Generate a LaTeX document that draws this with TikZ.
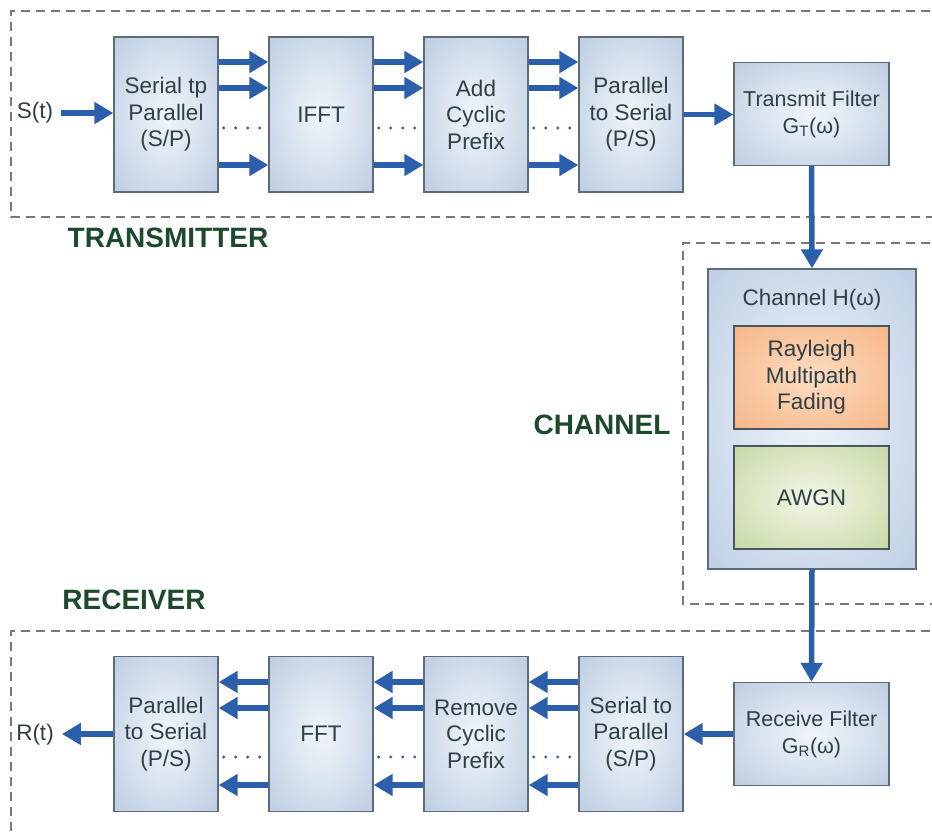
\documentclass[tikz,border=0pt]{standalone}
\usepackage{fontspec}
\setmainfont{Liberation Sans}
\usetikzlibrary{arrows.meta,calc}
\definecolor{arrblue}{HTML}{2B5EAB}
\definecolor{bordergray}{HTML}{5B6B78}
\definecolor{txtgray}{HTML}{2F3F44}
\definecolor{lblgreen}{HTML}{1D4A2C}
\definecolor{dashgray}{HTML}{777777}
\definecolor{dotblue}{HTML}{3A5F95}
\pgfdeclareradialshading{blockshade}{\pgfpoint{0bp}{0bp}}{rgb(0bp)=(0.94,0.96,0.98); rgb(12bp)=(0.88,0.91,0.95); rgb(50bp)=(0.66,0.74,0.85); rgb(75bp)=(0.62,0.71,0.83)}
\pgfdeclareradialshading{chanshade}{\pgfpoint{0bp}{0bp}}{rgb(0bp)=(0.93,0.95,0.98); rgb(15bp)=(0.86,0.90,0.95); rgb(50bp)=(0.67,0.75,0.86); rgb(75bp)=(0.64,0.72,0.84)}
\pgfdeclareradialshading{orangeshade}{\pgfpoint{0bp}{0bp}}{rgb(0bp)=(0.99,0.87,0.77); rgb(15bp)=(0.98,0.80,0.66); rgb(50bp)=(0.95,0.65,0.44); rgb(75bp)=(0.94,0.62,0.40)}
\pgfdeclareradialshading{greenshade}{\pgfpoint{0bp}{0bp}}{rgb(0bp)=(0.95,0.97,0.91); rgb(15bp)=(0.88,0.92,0.80); rgb(50bp)=(0.71,0.80,0.54); rgb(75bp)=(0.68,0.78,0.50)}
\tikzset{
  block/.style={draw=bordergray, line width=1.4pt, shading=blockshade, minimum width=104pt, minimum height=155pt, inner sep=0pt, align=center, text=txtgray, font=\fontsize{22.5}{26.5}\selectfont},
  filt/.style={block, minimum width=155pt, minimum height=103pt, font=\fontsize{21.5}{27}\selectfont},
  chanbox/.style={draw=bordergray, line width=1.4pt, shading=chanshade, minimum width=208pt, minimum height=300pt, inner sep=0pt},
  orangebox/.style={draw=bordergray!80!black, line width=1.4pt, shading=orangeshade, minimum width=155pt, minimum height=103pt, inner sep=0pt, align=center, text=txtgray, font=\fontsize{22.5}{26.5}\selectfont},
  greenbox/.style={orangebox, shading=greenshade},
  arr/.style={draw=arrblue, line width=5.5pt, -{Triangle[length=19pt,width=21pt]}},
  dashbox/.style={draw=dashgray, line width=1.3pt, dash pattern=on 9pt off 6pt},
  lbl/.style={text=lblgreen, font=\fontsize{28}{32}\selectfont\bfseries, inner sep=0pt},
  iotext/.style={text=txtgray, font=\fontsize{22.5}{26.5}\selectfont, inner sep=0pt},
  dotmark/.style={fill=dotblue}
}
\begin{document}
\begin{tikzpicture}[x=1pt,y=-1pt]
\useasboundingbox (0,0) rectangle (932,834);
\fill[white] (0,0) rectangle (932,834);
\begin{scope}
\clip (0,0) rectangle (932,834);
\draw[dashbox] (945,11) -- (11,11) -- (11,217) -- (945,217);
\draw[dashbox] (945,243) -- (683,243) -- (683,604) -- (945,604);
\draw[dashbox] (945,631) -- (11,631) -- (11,845);
\end{scope}

% labels
\node[lbl] (ltx) at (168,238) {TRANSMITTER};
\node[lbl] (lch) at (602,425) {CHANNEL};
\node[lbl] (lrx) at (134,600) {RECEIVER};

% transmitter
\node[iotext] (st) at (35,113) {S(t)};
\node[block] (sp) at (166,114.5) {Serial tp\\Parallel\\(S/P)};
\node[block] (ifft) at (321,114.5) {IFFT};
\node[block] (acp) at (476,114.5) {Add\\Cyclic\\Prefix};
\node[block] (ps) at (631,114.5) {Parallel\\to Serial\\(P/S)};
\node[filt] (tf) at (811.5,114) {Transmit Filter\\G\textsubscript{T}(ω)};

% channel
\node[chanbox] (chan) at (812,419) {};
\node[iotext] (chlbl) at (812,300) {Channel H(ω)};
\node[orangebox] (ray) at (811.5,377.5) {Rayleigh\\Multipath\\Fading};
\node[greenbox] (awgn) at (811.5,497.5) {AWGN};

% receiver
\node[iotext] (rt) at (35,735) {R(t)};
\node[block] (rps) at (166,734) {Parallel\\to Serial\\(P/S)};
\node[block] (fft) at (321,734) {FFT};
\node[block] (rcp) at (476,734) {Remove\\Cyclic\\Prefix};
\node[block] (rsp) at (631,734) {Serial to\\Parallel\\(S/P)};
\node[filt] (rf) at (811.5,734) {Receive Filter\\G\textsubscript{R}(ω)};

% transmitter arrows
\draw[arr, shorten <=8pt] (st.east) -- (sp.west |- st.east);
\foreach \a/\b in {sp/ifft, ifft/acp, acp/ps}{
  \foreach \s in {52.5,26.5,-50.5}{
    \draw[arr] ([yshift=\s pt]\a.east) -- ([yshift=\s pt]\b.west);
  }
  \foreach \d in {5,17,29,41}{
    \fill[dotmark] ([xshift=\d pt, yshift=-13.5pt]\a.east) circle (1.7pt);
  }
}
\draw[arr] (ps.east) -- (ps.east -| tf.west);
\draw[arr] (tf.south) -- (chan.north);
\draw[arr] (chan.south) -- (rf.north);

% receiver arrows
\draw[arr] (rf.west) -- (rf.west -| rsp.east);
\foreach \a/\b in {rps/fft, fft/rcp, rcp/rsp}{
  \foreach \s in {52,26,-51}{
    \draw[arr] ([yshift=\s pt]\b.west) -- ([yshift=\s pt]\a.east);
  }
  \foreach \d in {5,17,29,41}{
    \fill[dotmark] ([xshift=\d pt, yshift=-23pt]\a.east) circle (1.7pt);
  }
}
\draw[arr, shorten >=8pt] (rps.west) -- (rps.west -| rt.east);
\end{tikzpicture}
\end{document}
